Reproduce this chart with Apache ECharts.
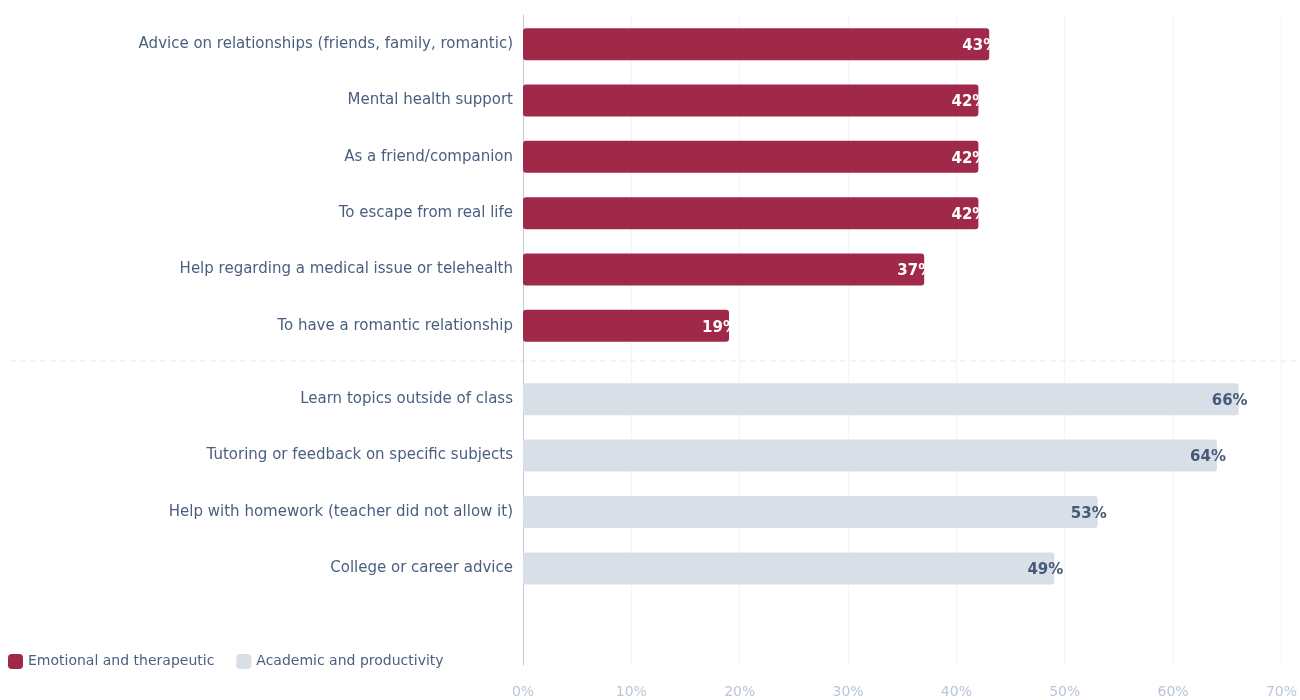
<!DOCTYPE html>
<html>
<head>
<meta charset="utf-8">
<script src="https://cdn.jsdelivr.net/npm/echarts@6/dist/echarts.min.js"></script>
<style>
  html, body { margin: 0; padding: 0; background: #fff; }
  #chart { width: 1300px; height: 700px; }
</style>
</head>
<body>
<div id="chart"></div>
<script>
const emotionalCats = [
  "Advice on relationships (friends, family, romantic)",
  "Mental health support",
  "As a friend/companion",
  "To escape from real life",
  "Help regarding a medical issue or telehealth",
  "To have a romantic relationship",
];
const emotionalValues = [43, 42, 42, 42, 37, 19];

const academicCats = [
  "Learn topics outside of class",
  "Tutoring or feedback on specific subjects",
  "Help with homework (teacher did not allow it)",
  "College or career advice",
];
const academicValues = [66, 64, 53, 49];

const seriesNames = ["Emotional and therapeutic", "Academic and productivity"];

const FONT = "DejaVu Sans";
const RED = "#A0294A";
const GRAY = "#D9DFE7";
const TEXT = "#4A5F80";

const chart = echarts.init(document.getElementById("chart"));

const hiddenX = (i) => ({
  type: "value", gridIndex: i, min: 0, max: 70, interval: 10, show: false,
});

const catAxis = (i, data) => ({
  type: "category",
  gridIndex: i,
  data,
  inverse: true,
  axisLine: { show: false },
  axisTick: { show: false },
  axisLabel: { color: TEXT, fontSize: 15, fontFamily: FONT, margin: 10 },
});

const barLabel = (color) => ({
  show: true,
  position: "insideRight",
  offset: [14, 2],
  formatter: "{c}%",
  color,
  fontWeight: "bold",
  fontSize: 15,
  fontFamily: FONT,
});

const option = {
  animation: false,
  textStyle: { fontFamily: FONT },
  legend: {
    left: 3,
    top: 649,
    itemWidth: 15,
    itemHeight: 15,
    itemGap: 22,
    icon: "roundRect",
    textStyle: { color: TEXT, fontSize: 14, fontFamily: FONT },
    data: seriesNames,
  },
  grid: [
    { left: 523, right: 18, top: 15, bottom: 35 },
    { left: 523, right: 18, top: 16, height: 338 },
    { left: 523, right: 18, top: 371, height: 225.6 },
  ],
  xAxis: [
    {
      type: "value",
      gridIndex: 0,
      min: 0,
      max: 70,
      interval: 10,
      axisLine: { show: false },
      axisTick: { show: false },
      axisLabel: {
        formatter: "{value}%",
        color: "#B9C5DB",
        fontSize: 14,
        fontFamily: FONT,
        margin: 20,
      },
      splitLine: { show: true, lineStyle: { color: "#F2F4F7", width: 1 } },
    },
    hiddenX(1),
    hiddenX(2),
  ],
  yAxis: [
    {
      type: "value",
      gridIndex: 0,
      min: 0,
      max: 1,
      axisLine: { show: true, lineStyle: { color: "#BFC8D6", width: 1 } },
      axisTick: { show: false },
      axisLabel: { show: false },
      splitLine: { show: false },
    },
    catAxis(1, emotionalCats),
    catAxis(2, academicCats),
  ],
  graphic: [
    {
      type: "line",
      silent: true,
      shape: { x1: 10, y1: 361, x2: 1300, y2: 361 },
      style: { stroke: "#E6EAEF", lineWidth: 1, lineDash: [6, 4] },
    },
  ],
  series: [
    {
      name: seriesNames[0],
      type: "bar",
      xAxisIndex: 1,
      yAxisIndex: 1,
      data: emotionalValues,
      barWidth: 32,
      itemStyle: { color: RED, borderRadius: 3 },
      label: barLabel("#fff"),
    },
    {
      name: seriesNames[1],
      type: "bar",
      xAxisIndex: 2,
      yAxisIndex: 2,
      data: academicValues,
      barWidth: 32,
      itemStyle: { color: GRAY, borderRadius: 3 },
      label: barLabel("#465A7A"),
    },
  ],
};

chart.setOption(option);
</script>
</body>
</html>
